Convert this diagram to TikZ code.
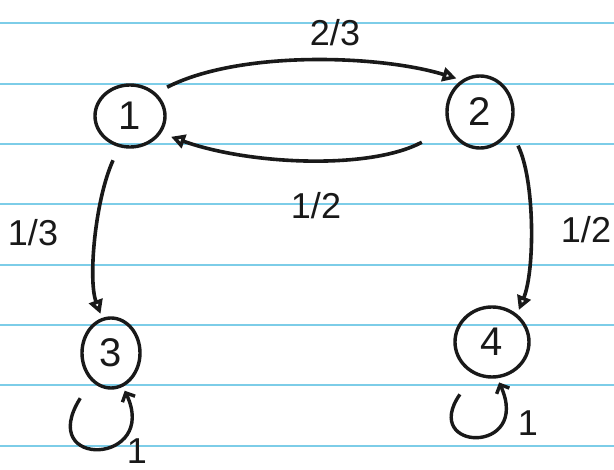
\documentclass[tikz,border=0pt]{standalone}
\usepackage{fontspec}
\setmainfont{Liberation Sans}
\usetikzlibrary{arrows.meta,shapes.geometric}
\definecolor{ruled}{RGB}{125,205,232}
\definecolor{ink}{RGB}{25,25,25}
\begin{document}
\begin{tikzpicture}[x=1pt,y=-1pt,
  state/.style={draw=ink, ellipse, line width=3.4pt, inner sep=0pt, outer sep=6pt, text=ink, font=\fontsize{40}{40}\selectfont},
  edge/.style={draw=ink, line width=3.6pt, -{Triangle[open,length=14pt,width=14pt]}},
  loopedge/.style={draw=ink, line width=3.4pt, -{Straight Barb[length=7pt,width=14pt]}},
  lab/.style={text=ink, font=\fontsize{36}{36}\selectfont, inner sep=0pt},
  paperline/.style={draw=ruled, line width=2pt}]
\fill[white] (0,0) rectangle (614,470);
\useasboundingbox (0,0) rectangle (614,470);
\foreach \k in {0,...,7} \draw[paperline] (0,{23.5+60.3*\k}) -- (614,{23.5+60.3*\k});

\node[state, minimum width=70pt, minimum height=62pt] (n1) at (130,116) {1};
\node[state, minimum width=66pt, minimum height=72pt] (n2) at (480,112) {2};
\node[state, minimum width=58pt, minimum height=70pt] (n3) at (111,353) {3};
\node[state, minimum width=74pt, minimum height=70pt] (n4) at (492,342) {4};

\draw[edge, shorten <=8pt] (n1.40) .. controls (240,50) and (380,55) .. (n2.125);
\draw[edge, shorten <=26pt, shorten >=6pt] (n2.207) .. controls (370,170) and (250,165) .. (n1.-28);
\draw[edge, shorten <=10pt] (n1.250) .. controls (95,200) and (88,280) .. (n3.105);
\draw[edge, shorten <=12pt] (n2.-35) .. controls (535,180) and (535,270) .. (n4.50);

\draw[loopedge, shorten <=16pt] (n3.235) .. controls (35,470) and (160,465) .. (n3.-70);
\draw[loopedge, shorten <=20pt] (n4.240) .. controls (420,452) and (532,455) .. (n4.-80);

\node[lab] (l12) at (335,33) {2/3};
\node[lab] (l21) at (316,206) {1/2};
\node[lab] (l13) at (33,233) {1/3};
\node[lab] (l24) at (586,230) {1/2};
\node[lab] (l33) at (137,451) {1};
\node[lab] (l44) at (528,423) {1};
\end{tikzpicture}
\end{document}
